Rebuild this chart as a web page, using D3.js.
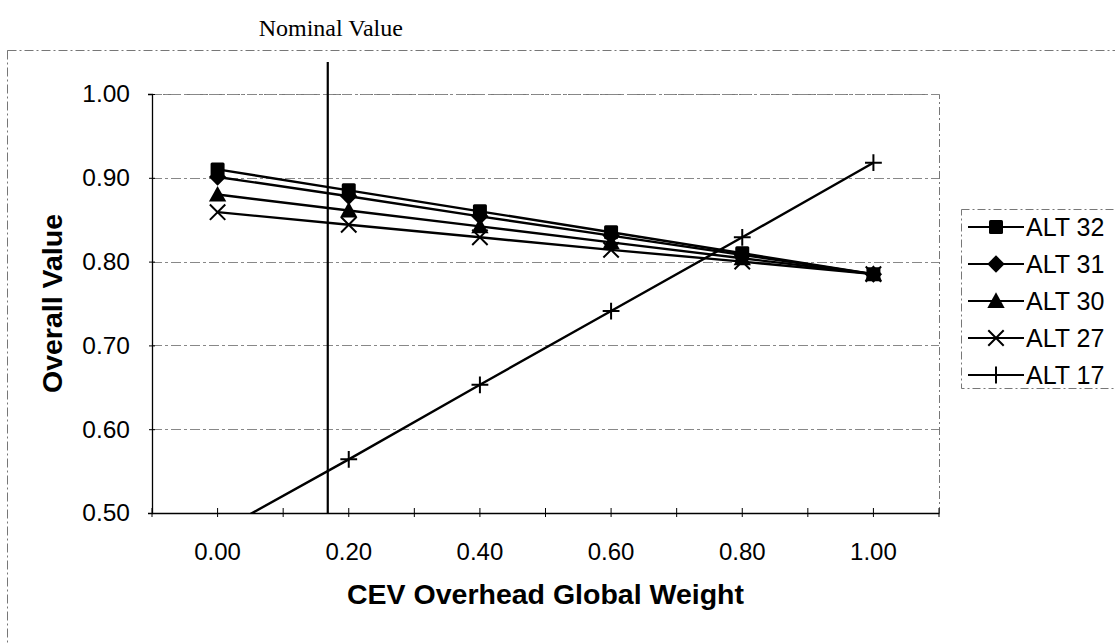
<!DOCTYPE html>
<html>
<head>
<meta charset="utf-8">
<script src="https://cdn.jsdelivr.net/npm/d3@7"></script>
<style>
  html, body { margin: 0; padding: 0; background: #fff; }
  svg { display: block; }
</style>
</head>
<body>
<svg id="chart" width="1115" height="644"></svg>
<script>
// ---- data ----
const categories = ["0.00", "0.20", "0.40", "0.60", "0.80", "1.00"];
const seriesNames = ["ALT 32", "ALT 31", "ALT 30", "ALT 27", "ALT 17"];
const alt32 = [0.910, 0.885, 0.860, 0.835, 0.810, 0.785];
const alt31 = [0.901, 0.878, 0.854, 0.831, 0.808, 0.785];
const alt30 = [0.880, 0.861, 0.842, 0.823, 0.804, 0.785];
const alt27 = [0.859, 0.844, 0.829, 0.814, 0.800, 0.785];
const alt17 = [0.477, 0.564, 0.653, 0.741, 0.829, 0.918];
const yTicks = [0.50, 0.60, 0.70, 0.80, 0.90, 1.00];
const nominalWeight = 0.168;
const markerTypes = ["square", "diamond", "triangle", "x", "plus"];

const seriesValues = [alt32, alt31, alt30, alt27, alt17];

// ---- layout ----
const svg = d3.select("#chart");
const plot = { left: 152, right: 939, top: 94, bottom: 513 };

const x = d3.scaleBand().domain(categories).range([plot.left, plot.right]).padding(0);
const bw = x.bandwidth();
const cx = c => x(c) + bw / 2;
const xLin = d3.scaleLinear().domain([0, 1]).range([cx(categories[0]), cx(categories[categories.length - 1])]);
const y = d3.scaleLinear().domain([0.5, 1.0]).range([plot.bottom, plot.top]);

const sans = "'Liberation Sans', Arial, sans-serif";
const serif = "'Liberation Serif', 'Times New Roman', serif";

// outer chart frame
svg.append("rect")
  .attr("x", 7.5).attr("y", 50.5).attr("width", 1200).attr("height", 700)
  .attr("fill", "none").attr("stroke", "#777").attr("stroke-width", 1)
  .attr("stroke-dasharray", "9,3,2,3");

// plot area border (top/right)
svg.append("path")
  .attr("d", `M${plot.left},${plot.top + 0.5}H${plot.right + 0.5}V${plot.bottom}`)
  .attr("fill", "none").attr("stroke", "#777").attr("stroke-width", 1)
  .attr("stroke-dasharray", "8,3,2,3");

// gridlines
svg.append("g").selectAll("line")
  .data(yTicks.filter(t => t > 0.5))
  .join("line")
  .attr("x1", plot.left).attr("x2", plot.right)
  .attr("y1", d => Math.round(y(d)) + 0.5).attr("y2", d => Math.round(y(d)) + 0.5)
  .attr("stroke", "#888").attr("stroke-width", 1)
  .attr("stroke-dasharray", "10,3,3,3");

// y axis
const yAxis = d3.axisLeft(y).tickValues(yTicks).tickFormat(d3.format(".2f")).tickSize(4).tickPadding(18);
const gy = svg.append("g").attr("transform", `translate(${plot.left},0)`).call(yAxis);
gy.select(".domain").attr("stroke", "#000").attr("stroke-width", 1.3);
gy.selectAll(".tick line").attr("stroke", "#000").attr("x2", 3).attr("x1", -3);
gy.selectAll(".tick text").attr("font-family", sans).attr("font-size", 24.5).attr("fill", "#000");

// x axis (category)
const xAxis = d3.axisBottom(x).tickSize(0).tickPadding(30);
const gx = svg.append("g").attr("transform", `translate(0,${plot.bottom})`).call(xAxis);
gx.select(".domain").attr("stroke", "#000").attr("stroke-width", 1.3);
gx.selectAll(".tick text").attr("font-family", sans).attr("font-size", 24).attr("fill", "#000");
// tick marks at band edges and centers
const tickPos = [];
categories.forEach(c => { tickPos.push(x(c)); tickPos.push(cx(c)); });
tickPos.push(plot.right);
svg.append("g").selectAll("line").data(tickPos).join("line")
  .attr("x1", d => d).attr("x2", d => d)
  .attr("y1", plot.bottom - 5).attr("y2", plot.bottom + 4)
  .attr("stroke", "#000").attr("stroke-width", 1);

// axis titles
svg.append("text")
  .attr("x", (plot.left + plot.right) / 2).attr("y", 604)
  .attr("text-anchor", "middle")
  .attr("font-family", sans).attr("font-weight", "bold").attr("font-size", 28.5)
  .text("CEV Overhead Global Weight");
svg.append("text")
  .attr("transform", `translate(62,${(plot.top + plot.bottom) / 2}) rotate(-90)`)
  .attr("text-anchor", "middle")
  .attr("font-family", sans).attr("font-weight", "bold").attr("font-size", 28.5)
  .text("Overall Value");

// nominal line + label
const nx = xLin(nominalWeight);
svg.append("line")
  .attr("x1", nx).attr("x2", nx).attr("y1", 62).attr("y2", plot.bottom)
  .attr("stroke", "#000").attr("stroke-width", 2.2);
svg.append("text")
  .attr("x", nx + 3).attr("y", 36)
  .attr("text-anchor", "middle")
  .attr("font-family", serif).attr("font-size", 24)
  .text("Nominal Value");

// clip for series
svg.append("clipPath").attr("id", "clip")
  .append("rect").attr("x", plot.left).attr("y", plot.top - 10)
  .attr("width", plot.right - plot.left + 10).attr("height", plot.bottom - plot.top + 10);

// marker drawing
function marker(g, type, px, py, s) {
  if (type === "square") {
    g.append("rect").attr("x", px - s / 2).attr("y", py - s / 2).attr("width", s).attr("height", s)
      .attr("rx", 1.5).attr("fill", "#000");
  } else if (type === "diamond") {
    const r = s * 0.62;
    g.append("path").attr("d", `M${px},${py - r}L${px + r},${py}L${px},${py + r}L${px - r},${py}Z`).attr("fill", "#000");
  } else if (type === "triangle") {
    const r = s * 0.62;
    g.append("path").attr("d", `M${px},${py - r}L${px + r},${py + r * 0.8}L${px - r},${py + r * 0.8}Z`).attr("fill", "#000");
  } else if (type === "x") {
    const r = s * 0.55;
    g.append("path").attr("d", `M${px - r},${py - r}L${px + r},${py + r}M${px - r},${py + r}L${px + r},${py - r}`)
      .attr("stroke", "#000").attr("stroke-width", 2).attr("fill", "none");
  } else if (type === "plus") {
    const r = s * 0.6;
    g.append("path").attr("d", `M${px - r},${py}L${px + r},${py}M${px},${py - r}L${px},${py + r}`)
      .attr("stroke", "#000").attr("stroke-width", 2).attr("fill", "none");
  }
}

const line = d3.line().x((d, i) => cx(categories[i])).y(d => y(d));
const series = svg.append("g").attr("clip-path", "url(#clip)");
// draw in reverse so ALT 32 is on top
for (let k = seriesValues.length - 1; k >= 0; k--) {
  const vals = seriesValues[k];
  series.append("path").datum(vals).attr("d", line)
    .attr("fill", "none").attr("stroke", "#000").attr("stroke-width", 2.4);
  const mg = series.append("g");
  vals.forEach((v, i) => marker(mg, markerTypes[k], cx(categories[i]), y(v), 14));
}

// legend
const lg = svg.append("g");
lg.append("rect").attr("x", 961.5).attr("y", 209.5).attr("width", 200).attr("height", 179)
  .attr("fill", "#fff").attr("stroke", "#777").attr("stroke-width", 1).attr("stroke-dasharray", "8,3,2,3");
seriesNames.forEach((name, k) => {
  const ly = 227 + k * 37;
  lg.append("line").attr("x1", 968).attr("x2", 1024).attr("y1", ly).attr("y2", ly)
    .attr("stroke", "#000").attr("stroke-width", 2.2);
  marker(lg, markerTypes[k], 996, ly, 14);
  lg.append("text").attr("x", 1026).attr("y", ly + 9)
    .attr("font-family", sans).attr("font-size", 25).text(name);
});
</script>
</body>
</html>
